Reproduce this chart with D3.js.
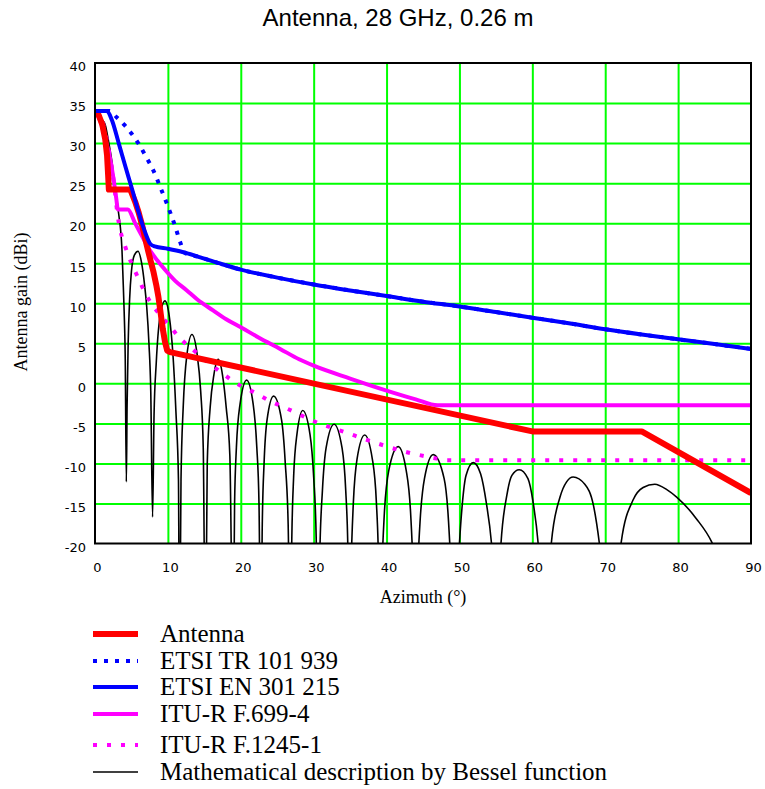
<!DOCTYPE html>
<html>
<head>
<meta charset="utf-8">
<script src="https://cdn.jsdelivr.net/npm/d3@7"></script>
<style>
  body { margin: 0; background: #fff; }
</style>
</head>
<body>
<div id="chart"></div>
<script>
// values, [azimuth deg, gain dBi]
const titleText = 'Antenna, 28 GHz, 0.26 m'
const xLabel = 'Azimuth (°)'
const yLabel = 'Antenna gain (dBi)'
const xTicks = [0, 10, 20, 30, 40, 50, 60, 70, 80, 90]
const yTicks = [-20, -15, -10, -5, 0, 5, 10, 15, 20, 25, 30, 35, 40]
const legendLabels = ['Antenna', 'ETSI TR 101 939', 'ETSI EN 301 215', 'ITU-R F.699-4', 'ITU-R F.1245-1', 'Mathematical description by Bessel function']

const antenna = [[0, 34], [0.5, 33.5], [1, 32.3], [1.4, 30.5], [1.65, 28.5], [1.8, 26], [1.9, 24.2], [4.85, 24.2],
  [5.5, 22.7], [6, 21.3], [6.5, 19.6], [6.9, 18], [7.3, 16.5], [7.6, 15.4], [8, 14], [8.4, 12.3], [8.7, 10.8],
  [9, 8.8], [9.3, 6.8], [9.6, 5.2], [9.9, 4.1], [10.3, 3.9], [60, -6], [75, -6], [90, -13.7]]

const etsiTR = [[0, 34], [2, 34], [3, 33.2], [4, 32.3], [5, 31.2], [6, 29.9], [7, 28.3], [8, 26.6], [9, 24.4],
  [10, 22.1], [11, 19.6], [11.7, 17.6], [12.3, 16.3], [14.2, 15.8], [17, 15], [20, 14.2], [25, 13.2], [30, 12.35],
  [35, 11.6], [40, 10.9], [45, 10.2], [50, 9.6], [55, 8.9], [60, 8.2], [65, 7.5], [70, 6.75], [75, 6.1], [80, 5.5],
  [85, 4.9], [90, 4.3]]

const etsiEN = [[0, 34], [1.65, 34], [2.3, 32.9], [3.25, 30], [4.16, 27.1], [5.1, 24.2], [6, 21.3], [6.9, 18.8],
  [7.6, 17.4], [8.2, 17.1], [10, 16.8], [12, 16.4], [14.2, 15.8], [17, 15], [20, 14.2], [25, 13.2], [30, 12.35],
  [35, 11.6], [40, 10.9], [45, 10.2], [50, 9.6], [55, 8.9], [60, 8.2], [65, 7.5], [70, 6.75], [75, 6.1], [80, 5.5],
  [85, 4.9], [90, 4.3]]

const ituF699 = [[0, 34], [0.7, 32.8], [1.4, 30.6], [2, 28.4], [2.5, 25.8], [2.9, 23.2], [3.15, 21.7], [4.5, 21.7],
  [5.5, 20], [6.45, 18.4], [7.4, 16.8], [8.5, 15.4], [9.4, 14.4], [11, 12.8], [12.6, 11.6], [14, 10.5], [16.2, 9.1],
  [18, 8], [20, 7], [22.5, 5.7], [25.4, 4.3], [28, 3], [30, 2.2], [35, 0.6], [40, -0.9], [44, -2], [47, -2.75],
  [60, -2.75], [75, -2.75], [90, -2.75]]

const ituF1245 = [[0, 34], [1, 32.7], [2, 28.5], [2.6, 25], [3.1, 21], [3.5, 19], [4.1, 17.2], [5, 15], [5.7, 13.6],
  [6.5, 12], [7.3, 10.6], [8, 9.6], [8.9, 8.6], [10.3, 7.1], [11.7, 5.6], [13.7, 4], [15.5, 2.6], [17.1, 1.5],
  [19.4, 0], [22, -1.2], [24, -2.2], [26.7, -3.3], [30.2, -4.8], [34.3, -6.1], [38.4, -7.4], [42.8, -8.6],
  [46.9, -9.4], [48, -9.6], [90, -9.6]]

const bessel = [[0, 34], [0.5, 33.6], [1, 32.9], [1.4, 32.3], [1.9, 30], [2.3, 27.8], [2.6, 25.5], [3, 22.9],
  [3.3, 20.8], [3.5, 19.3], [3.7, 16.7], [3.85, 13], [4, 9], [4.15, 3], [4.3, -12.3],
  [4.4, -3], [4.55, 5], [4.75, 10.5], [5, 14], [5.4, 16], [5.9, 16.5], [6.4, 15], [6.8, 12.3], [7.1, 9.5], [7.4, 5],
  [7.65, -1], [7.9, -16.7],
  [8.1, -4], [8.4, 2.5], [8.9, 8.2], [9.6, 10.3], [10.2, 8.3], [10.7, 3.5], [11.1, -3.5], [11.45, -12], [11.6, -35],
  [11.8, -12], [12.1, -3], [12.6, 3.5], [13.3, 6.1], [14, 3.7], [14.5, -1], [14.85, -8], [15.15, -35],
  [15.4, -10], [15.8, -3], [16.3, 1], [16.9, 3], [17.5, 1], [18, -3], [18.5, -9], [18.95, -35],
  [19.15, -15], [19.4, -8], [19.9, -2.6], [20.8, 0.4], [21.7, -2.6], [22.2, -8], [22.5, -15], [22.75, -35],
  [22.95, -17.6], [23.2, -9.9], [23.6, -4.6], [24.5, -1.6], [25.6, -4.6], [26.1, -9.9], [26.5, -17.6], [26.8, -35],
  [27, -19.4], [27.25, -11.7], [27.7, -6.4], [28.5, -3.4], [29.5, -6.4], [30, -11.7], [30.35, -19.4], [30.6, -35],
  [30.85, -21], [31.2, -13.4], [31.7, -8.1], [32.8, -5.1], [33.9, -8.1], [34.4, -13.4], [34.7, -21], [34.9, -35],
  [35.15, -22.4], [35.45, -14.8], [35.95, -9.45], [37, -6.45], [38.05, -9.45], [38.6, -14.8], [38.9, -22.4], [39.1, -35],
  [39.35, -23.9], [39.7, -16.2], [40.3, -10.9], [41.6, -7.9], [42.7, -10.9], [43.3, -16.2], [43.65, -23.9], [43.9, -35],
  [44.2, -24.9], [44.6, -17.2], [45.2, -11.9], [46.4, -8.9], [47.9, -11.9], [48.5, -17.2], [48.9, -24.9], [49.2, -35],
  [49.7, -25], [50, -20], [50.4, -15], [50.9, -11.5], [51.9, -9.9], [52.9, -11.3], [53.7, -15], [54.4, -20], [54.8, -25], [55.1, -35],
  [55.4, -25], [55.7, -20], [56.5, -14], [57.2, -11.5], [58.2, -10.8], [59.4, -11.9], [60.1, -14.8], [60.8, -20], [61.2, -25], [61.7, -35],
  [62.2, -25], [62.6, -20], [63.8, -14.2], [64.7, -12.3], [65.6, -11.7], [67.2, -12.6], [68.4, -15.3], [69.2, -20], [69.8, -25], [70.6, -35],
  [71.6, -25], [72.2, -19.8], [73.8, -14.6], [75.2, -13], [76.8, -12.6], [78.5, -13.3], [79.8, -14.2], [82.5, -16.9],
  [84.6, -19.8], [86, -23], [88, -28], [90, -34]]

const margin = { top: 63, left: 95, right: 14, bottom: 245.5 }
const width = 765 - margin.left - margin.right
const height = 789 - margin.top - margin.bottom

const svgRoot = d3
  .select('#chart')
  .append('svg')
  .attr('width', 765)
  .attr('height', 789)
  .style('display', 'block')

const svg = svgRoot
  .append('g')
  .attr('transform', 'translate(' + margin.left + ',' + margin.top + ')')

const xPositionScale = d3.scaleLinear().domain([0, 90]).range([0, width])
const yPositionScale = d3.scaleLinear().domain([-20, 40]).range([height, 0])

// title
svgRoot
  .append('text')
  .attr('x', 398)
  .attr('y', 26)
  .attr('text-anchor', 'middle')
  .attr('font-family', 'Liberation Sans, Arial, sans-serif')
  .attr('font-size', 24)
  .text(titleText)

// green grid
svg
  .append('g')
  .attr('class', 'grid x-grid')
  .attr('transform', 'translate(0,' + height + ')')
  .call(d3.axisBottom(xPositionScale).tickValues(xTicks.slice(1, -1)).tickSize(-height).tickFormat(''))
svg
  .append('g')
  .attr('class', 'grid y-grid')
  .call(d3.axisLeft(yPositionScale).tickValues(yTicks.slice(1, -1)).tickSize(-width).tickFormat(''))
svg.selectAll('.grid .domain').remove()
svg.selectAll('.grid line').attr('stroke', '#00ff00').attr('stroke-width', 2)

// axes labels
const yAxis = d3.axisLeft(yPositionScale).tickValues(yTicks).tickSize(0).tickPadding(9).tickFormat(d => String(d))
svg.append('g').attr('class', 'axis y-axis').call(yAxis)
const xAxis = d3.axisBottom(xPositionScale).tickValues(xTicks).tickSize(0).tickPadding(19).tickFormat(d => String(d))
svg.append('g').attr('class', 'axis x-axis').attr('transform', 'translate(0,' + height + ')').call(xAxis)
svg.selectAll('.axis .domain').remove()
svg
  .selectAll('.axis text')
  .attr('font-family', 'DejaVu Sans, sans-serif')
  .attr('font-size', 13)
  .attr('fill', '#000')
svg.selectAll('.y-axis text').attr('dy', '0.6em')
svg.selectAll('.x-axis text').attr('dx', 2)

svg
  .append('text')
  .attr('x', xPositionScale(45))
  .attr('y', height + 59)
  .attr('text-anchor', 'middle')
  .attr('font-family', 'Liberation Serif, Times New Roman, serif')
  .attr('font-size', 18)
  .text(xLabel)

svgRoot
  .append('text')
  .attr('transform', 'translate(27,302) rotate(-90)')
  .attr('text-anchor', 'middle')
  .attr('font-family', 'Liberation Serif, Times New Roman, serif')
  .attr('font-size', 18)
  .text(yLabel)

// series
svg
  .append('clipPath')
  .attr('id', 'plot-clip')
  .append('rect')
  .attr('width', width)
  .attr('height', height)

const styles = [
  { data: antenna, color: '#ff0000', width: 6, dash: null, curve: d3.curveLinear },
  { data: etsiTR, color: '#0000ff', width: 4, dash: '4 7', curve: d3.curveMonotoneX },
  { data: etsiEN, color: '#0000ff', width: 4, dash: null, curve: d3.curveMonotoneX },
  { data: ituF699, color: '#ff00ff', width: 4, dash: null, curve: d3.curveMonotoneX },
  { data: ituF1245, color: '#ff00ff', width: 4, dash: '4 10', curve: d3.curveMonotoneX },
  { data: bessel, color: '#000000', width: 1.6, dash: null, curve: d3.curveMonotoneX }
]

const lines = svg.append('g').attr('clip-path', 'url(#plot-clip)')
// draw in back-to-front order like the reference
const drawOrder = [5, 4, 3, 0, 2, 1]
drawOrder.forEach(i => {
  const s = styles[i]
  const line = d3
    .line()
    .x(d => xPositionScale(d[0]))
    .y(d => yPositionScale(d[1]))
    .curve(s.curve)
  lines
    .append('path')
    .datum(s.data)
    .attr('d', line)
    .attr('fill', 'none')
    .attr('stroke', s.color)
    .attr('stroke-width', s.width)
    .attr('stroke-dasharray', s.dash)
    .attr('stroke-linejoin', 'round')
})

// plot frame
svg
  .append('rect')
  .attr('width', width)
  .attr('height', height)
  .attr('fill', 'none')
  .attr('stroke', '#000')
  .attr('stroke-width', 2)

// legend
const legendY = [634, 661, 687, 714, 745, 772]
const legend = svgRoot.append('g').attr('class', 'legend')
legendLabels.forEach((label, i) => {
  const s = styles[i]
  legend
    .append('line')
    .attr('x1', 93)
    .attr('x2', 138)
    .attr('y1', legendY[i])
    .attr('y2', legendY[i])
    .attr('stroke', s.color)
    .attr('stroke-width', s.width)
    .attr('stroke-dasharray', s.dash)
  legend
    .append('text')
    .attr('x', 160)
    .attr('y', legendY[i] + 8)
    .attr('font-family', 'Liberation Serif, Times New Roman, serif')
    .attr('font-size', 25)
    .text(label)
})
</script>
</body>
</html>
